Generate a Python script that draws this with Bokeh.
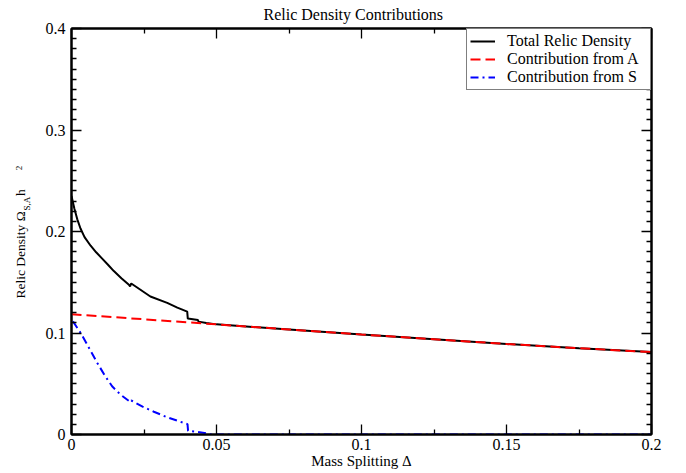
from math import pi
from bokeh.plotting import figure
from bokeh.models import (Range1d, FixedTicker, LinearAxis, CustomLabelingPolicy,
                          ColumnDataSource)
from bokeh.layouts import row
from bokeh.core.properties import value
from bokeh.embed import file_html
from bokeh.resources import INLINE

# ---------------- data ----------------
delta_total = [0.0, 0.001, 0.002, 0.0031, 0.0045, 0.0066, 0.0085, 0.0105, 0.0125,
               0.0146, 0.0172, 0.0198, 0.0202, 0.0206, 0.0272, 0.033, 0.0365,
               0.0399, 0.0401, 0.0436, 0.0438, 0.0465, 0.05, 0.075, 0.1, 0.125,
               0.15, 0.175, 0.2]
omega_total = [0.235, 0.2225, 0.212, 0.203, 0.1945, 0.186, 0.1795, 0.1735, 0.1675,
               0.161, 0.154, 0.1475, 0.1458, 0.1488, 0.136, 0.1297, 0.125,
               0.121, 0.1142, 0.1128, 0.1112, 0.1098, 0.1085, 0.1035, 0.0985,
               0.0938, 0.0892, 0.085, 0.0812]

delta_A = [0.0, 0.025, 0.05, 0.075, 0.1, 0.125, 0.15, 0.175, 0.2]
omega_A = [0.1185, 0.1135, 0.1085, 0.1035, 0.0985, 0.0938, 0.0892, 0.085, 0.0812]

delta_S = [0.0005, 0.0035, 0.0062, 0.0089, 0.0115, 0.014, 0.017, 0.0198, 0.0202,
           0.0206, 0.0245, 0.0284, 0.033, 0.0376, 0.04, 0.0402, 0.0435, 0.0467,
           0.048, 0.1, 0.2]
omega_S = [0.1115, 0.0985, 0.0845, 0.0705, 0.058, 0.0475, 0.039, 0.033, 0.0318,
           0.0335, 0.0275, 0.0224, 0.017, 0.0125, 0.0102, 0.0036, 0.0025, 0.001,
           0.0, 0.0, 0.0]

x_ticks = [0.0, 0.05, 0.1, 0.15, 0.2]
x_tick_labels = ["0", "0.05", "0.1", "0.15", "0.2"]
x_minor = [0.025, 0.075, 0.125, 0.175]
y_ticks = [0.0, 0.1, 0.2, 0.3, 0.4]
y_tick_labels = ["0", "0.1", "0.2", "0.3", "0.4"]
y_minor = [round(i * 0.01, 2) for i in range(41) if i % 10 != 0]

title_text = "Relic Density Contributions"
x_label_text = "Mass Splitting Δ"
legend_labels = ["Total Relic Density", "Contribution from A", "Contribution from S"]
# y label pieces: main text, subscript, "h", superscript
y_label_pieces = ["Relic Density Ω", "S,A", "h", "2"]

SERIF = "Liberation Serif"
W, H = 686, 473
LAB_W = 40

# ---------------- main figure ----------------
p = figure(width=W - LAB_W, height=H, output_backend="svg", toolbar_location=None,
           x_range=Range1d(0, 0.2), y_range=Range1d(0, 0.4),
           min_border_left=31, min_border_right=35, min_border_top=28,
           min_border_bottom=39, x_axis_type=None, y_axis_type=None)
p.outline_line_color = "black"
p.outline_line_width = 2
p.background_fill_color = "white"
p.border_fill_color = "white"

p.title.text = title_text
p.title.align = "left"
p.title.offset = 192
p.title.standoff = 3
p.title.text_font = SERIF
p.title.text_font_size = "16px"
p.title.text_font_style = "normal"
p.title.text_color = "black"

xt = FixedTicker(ticks=x_ticks, minor_ticks=x_minor)
yt = FixedTicker(ticks=y_ticks, minor_ticks=y_minor)

hide_all = CustomLabelingPolicy(code="""
for (const i of indices) {
    indices.unset(i)
}
return indices
""")


def style_axis(ax, labels):
    ax.axis_line_color = "black"
    ax.axis_line_width = 2
    ax.major_tick_in = 10
    ax.major_tick_out = 0
    ax.minor_tick_in = 5
    ax.minor_tick_out = 0
    ax.major_tick_line_width = 1.3
    ax.minor_tick_line_width = 1.3
    ax.major_tick_line_color = "black"
    ax.minor_tick_line_color = "black"
    if labels:
        ax.major_label_text_font = SERIF
        ax.major_label_text_font_size = "16px"
        ax.major_label_text_color = "black"
    else:
        ax.major_label_text_font_size = "1px"
        ax.major_label_standoff = 0
        ax.major_label_policy = hide_all


xb = LinearAxis(ticker=xt, major_label_overrides=dict(zip(x_ticks, x_tick_labels)))
style_axis(xb, True)
xb.major_label_standoff = 4
xb.axis_label = x_label_text
xb.axis_label_text_font = SERIF
xb.axis_label_text_font_size = "15px"
xb.axis_label_text_font_style = "normal"
xb.axis_label_text_color = "black"
xb.axis_label_standoff = 0
p.add_layout(xb, "below")

yl = LinearAxis(ticker=yt, major_label_overrides=dict(zip(y_ticks, y_tick_labels)))
style_axis(yl, True)
yl.major_label_standoff = 6
p.add_layout(yl, "left")

xa = LinearAxis(ticker=xt)
style_axis(xa, False)
p.add_layout(xa, "above")

yr = LinearAxis(ticker=yt)
style_axis(yr, False)
p.add_layout(yr, "right")

# ---------------- curves ----------------
p.line(delta_total, omega_total, line_color="black", line_width=2,
       legend_label=legend_labels[0])
p.line(delta_A, omega_A, line_color="red", line_width=2, line_dash="10 5",
       legend_label=legend_labels[1])
p.line(delta_S, omega_S, line_color="blue", line_width=2, line_dash="8 4 2 4",
       legend_label=legend_labels[2])

lg = p.legend[0]
lg.location = "top_right"
lg.margin = 0
lg.padding = 3
lg.spacing = 0
lg.label_height = 18
lg.glyph_height = 18
lg.glyph_width = 25
lg.label_standoff = 12
lg.label_width = 140
lg.label_text_font = SERIF
lg.label_text_font_size = "16px"
lg.label_text_color = "black"
lg.border_line_color = "black"
lg.border_line_width = 1.5
lg.background_fill_color = "white"
lg.background_fill_alpha = 1.0

# ---------------- y-axis label panel (rotated, with sub/superscript) ----------------
lab = figure(width=LAB_W, height=H, output_backend="svg", toolbar_location=None,
             x_range=Range1d(0, LAB_W), y_range=Range1d(0, H),
             min_border=0, x_axis_type=None, y_axis_type=None)
lab.title = None
lab.outline_line_color = None
lab.background_fill_color = "white"
lab.border_fill_color = "white"
lab.xgrid.visible = False
lab.ygrid.visible = False

# main text is anchored by its end (just below the subscript)
lab.text(x=[20], y=[260], text=[y_label_pieces[0]], angle=pi / 2,
         text_align="right", text_baseline="alphabetic",
         text_font=value(SERIF), text_font_size="13.5px", text_color="black")

lab_src = ColumnDataSource(dict(
    text=y_label_pieces[1:],
    px=[26, 20, 18],          # baseline position (pixels from left)
    py=[261, 278, 308],       # start position (pixels from bottom)
    size=["9px", "13.5px", "9px"],
))
lab.text(x="px", y="py", text="text", source=lab_src, angle=pi / 2,
         text_align="left", text_baseline="alphabetic",
         text_font=value(SERIF), text_font_size="size", text_color="black")

layout = row(lab, p)
open("out.html", "w").write(file_html(layout, INLINE))
